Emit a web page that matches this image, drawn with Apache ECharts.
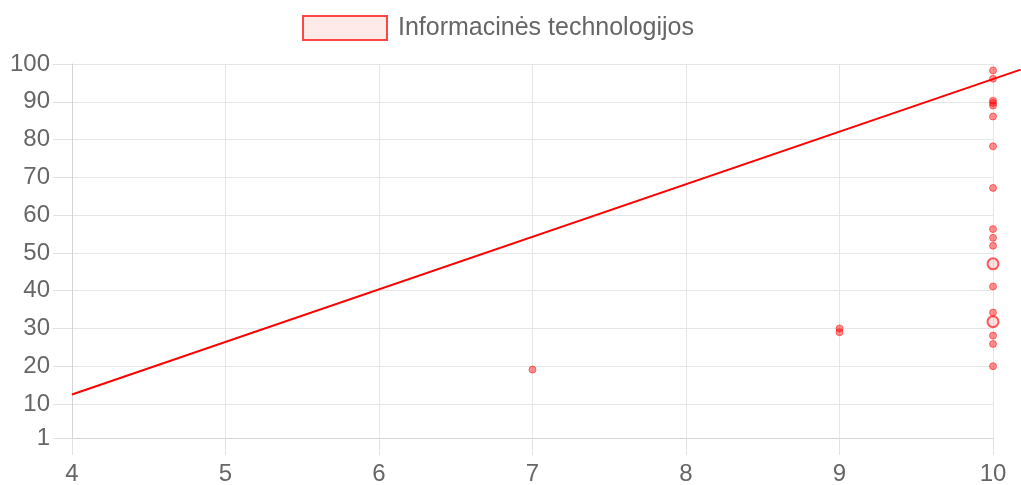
<!DOCTYPE html>
<html>
<head>
<meta charset="utf-8">
<script src="https://cdn.jsdelivr.net/npm/echarts@6/dist/echarts.min.js"></script>
<style>
html,body{margin:0;padding:0;background:#fff;}
#chart{width:1021px;height:485px;}
</style>
</head>
<body>
<div id="chart"></div>
<script>
const seriesName = 'Informacinės technologijos';
const pointsX = [10,10,10,10,10,10,10,10,10,10,10,10,10,10,10,10,9,9,7];
const pointsY = [98.3,96.1,90.3,89.7,89.0,86.1,78.2,67.2,56.3,54.0,51.9,41.1,34.2,28.1,25.9,20.0,29.0,30.0,19.1];
const bigPointsX = [10,10];
const bigPointsY = [47.1,31.8];
const trendX = [4, 10.18];
const trendY = [12.5, 98.5];
const xTicks = [4,5,6,7,8,9,10];
const yTicks = [1,10,20,30,40,50,60,70,80,90,100];

const pts = pointsX.map((x,i)=>[x,pointsY[i]]);
const bigPts = bigPointsX.map((x,i)=>[x,bigPointsY[i]]);
const trend = trendX.map((x,i)=>[x,trendY[i]]);

const font = 'Liberation Sans, Arial, sans-serif';
const W = 1021, L = 72, R = 28;
const xMin = xTicks[0], xMax = xTicks[xTicks.length-1];
// extended x-range for the full-width overlay grid (same scale as the main one)
const xMaxWide = xMin + (xMax - xMin) * (W - L) / (W - L - R);

const chart = echarts.init(document.getElementById('chart'));
chart.setOption({
  animation:false,
  legend:{
    data:[seriesName],
    top:10, left:297,
    itemWidth:84, itemHeight:24, itemGap:10,
    icon:'rect',
    itemStyle:{color:'rgba(255,0,0,0.1)', borderColor:'rgba(255,0,0,0.9)', borderWidth:2},
    textStyle:{color:'#666', fontSize:25, fontFamily:font, padding:[0,0,0,6]}
  },
  grid:[
    {left:L, right:R, top:64, bottom:47, outerBoundsMode:'none'},
    {left:L, right:0, top:64, bottom:47, outerBoundsMode:'none'}
  ],
  xAxis:[{
    type:'value', min:xMin, max:xMax, interval:1, gridIndex:0,
    axisLine:{show:true, lineStyle:{color:'#d4d4d4', width:1}},
    axisTick:{show:true, length:17, lineStyle:{color:'#e2e2e2'}},
    splitLine:{show:true, lineStyle:{color:'#e6e6e6'}},
    axisLabel:{color:'#666', fontSize:24, fontFamily:font, margin:24}
  },{
    type:'value', min:xMin, max:xMaxWide, gridIndex:1, show:false
  }],
  yAxis:[{
    type:'value', min:yTicks[0], max:yTicks[yTicks.length-1], gridIndex:0,
    axisLine:{show:true, lineStyle:{color:'#d4d4d4', width:1}},
    axisTick:{show:true, length:19, customValues:yTicks, lineStyle:{color:'#e2e2e2'}},
    splitLine:{show:true, lineStyle:{color:'#e6e6e6'}},
    axisLabel:{color:'#666', fontSize:24, fontFamily:font, margin:22, customValues:yTicks}
  },{
    type:'value', min:yTicks[0], max:yTicks[yTicks.length-1], gridIndex:1, show:false
  }],
  series:[
    {
      name:'trend', type:'line', data:trend, xAxisIndex:1, yAxisIndex:1, showSymbol:false,
      lineStyle:{color:'#ff0000', width:2}, z:1, silent:true
    },
    {
      name:seriesName, type:'scatter', data:pts, symbolSize:7,
      itemStyle:{color:'rgba(255,0,0,0.55)', borderColor:'rgba(255,0,0,0.6)', borderWidth:1}, z:3
    },
    {
      name:seriesName, type:'scatter', data:bigPts, symbolSize:11,
      itemStyle:{color:'rgba(255,0,0,0.15)', borderColor:'rgba(255,0,0,0.8)', borderWidth:2}, z:3
    }
  ]
});
</script>
</body>
</html>
